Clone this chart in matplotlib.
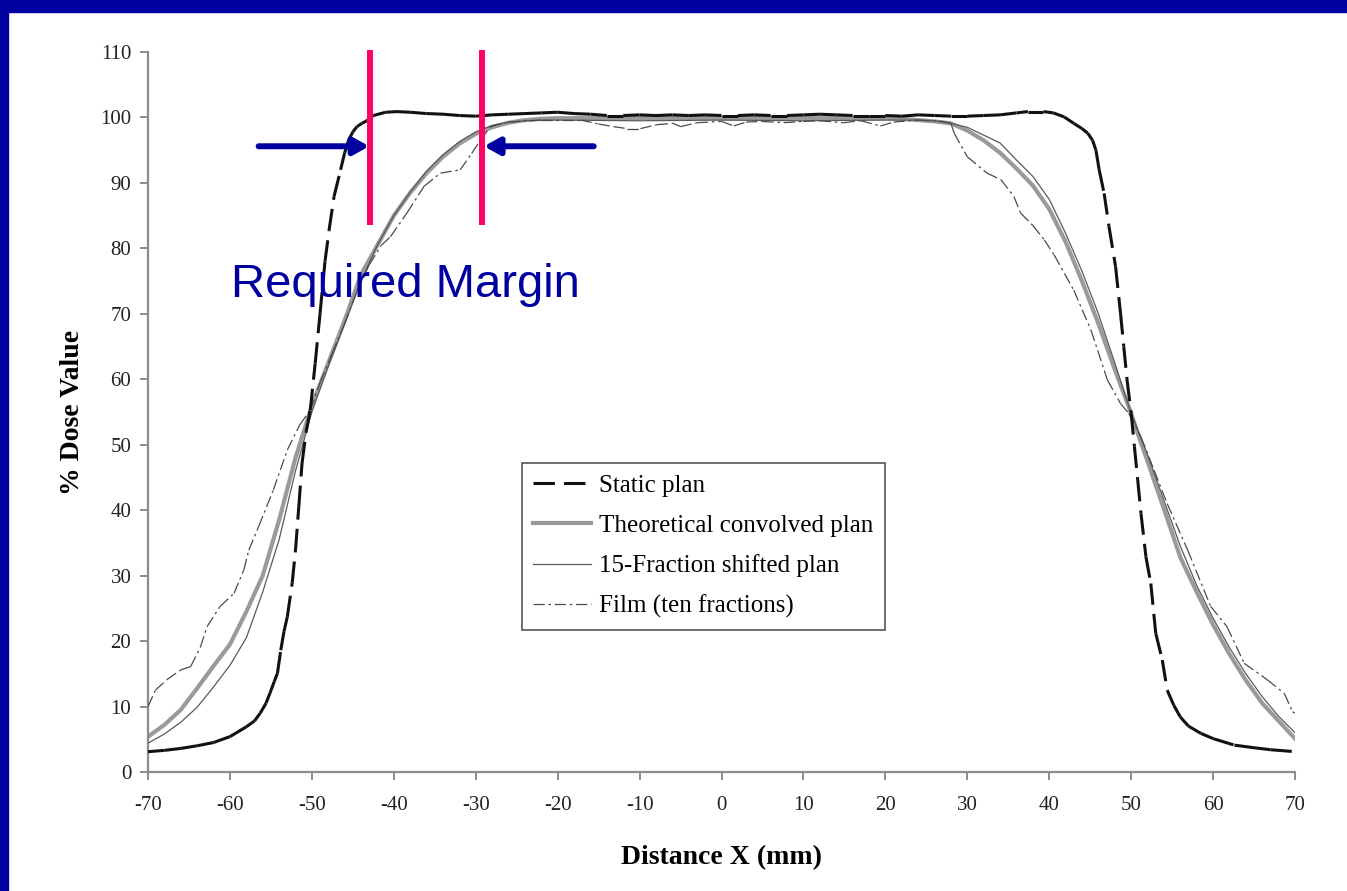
import matplotlib
matplotlib.use("Agg")
import matplotlib.pyplot as plt
import numpy as np
from matplotlib.collections import LineCollection
from matplotlib.lines import Line2D
from matplotlib.patches import Rectangle

plt.rcParams['axes.unicode_minus'] = False

# --- data (Distance X in mm, % dose) ---
static_x = [-70, -68, -66, -64, -62, -60, -58, -57, -56.3, -55.6, -55.1, -54.6, -54.2,
            -53.8, -53.4, -53.0, -52.4, -52.0, -51.6, -51.2, -50.7, -50.2, -49.6, -49.0,
            -48.4, -47.9, -47.3, -46.5, -46.0, -45.5, -45.0, -44.5, -43.9, -43.3, -42.5,
            -41, -39.6, -38, -36, -34, -32, -30, -28, -26, -24, -22, -20, -18, -16, -14,
            -12, -10, -8, -6, -4, -2, 0, 2, 4, 6, 8, 10, 12, 14, 16, 18, 20, 22, 24, 26,
            28, 30, 32, 34, 36, 37.4, 39.3, 40.5, 41.8, 43.0, 44.0, 44.7, 45.3, 45.7, 46.1,
            46.7, 47.3, 48.1, 48.7, 49.1, 49.5, 50.0, 50.4, 50.8, 51.2, 51.8, 52.4, 53.0,
            53.8, 54.4, 55.2, 56.0, 57, 58.5, 60, 62.6, 65, 67, 70]
static_y = [3.1, 3.3, 3.6, 4.0, 4.5, 5.4, 6.9, 7.8, 9.0, 10.5, 12.1, 13.8, 15.1,
            18.6, 21.5, 23.7, 28.9, 33.9, 40.5, 47.2, 52.0, 55.3, 62.4, 70.1,
            78.0, 82.8, 87.9, 92.0, 94.6, 96.6, 97.8, 98.6, 99.1, 99.5, 100.3,
            100.8, 100.9, 100.8, 100.6, 100.5, 100.3, 100.2, 100.4, 100.5, 100.6, 100.7,
            100.8, 100.6, 100.5, 100.3, 100.3, 100.4, 100.3, 100.4, 100.3, 100.4, 100.3,
            100.3, 100.4, 100.3, 100.3, 100.4, 100.5, 100.4, 100.3, 100.3, 100.3, 100.2,
            100.4, 100.3, 100.2, 100.2, 100.3, 100.4, 100.7, 100.9, 100.9, 100.7, 100.1,
            99.1, 98.3, 97.6, 96.5, 95.0, 92.0, 88.4, 83.3, 77.2, 70.1, 65.0, 59.9, 54.8,
            49.7, 44.6, 39.5, 32.9, 28.8, 21.2, 17.1, 12.5, 10.2, 8.4, 7.0, 5.9, 5.1, 4.1,
            3.7, 3.4, 3.1]

theory_x = [-70, -68, -66, -64, -62, -60, -58, -56, -54, -52, -50, -48, -46, -44, -42,
            -40, -38, -36, -34, -32, -30, -28, -26, -24, -22, -20, -10, 0, 10, 20, 22,
            24, 26, 28, 30, 32, 34, 36, 38, 40, 42, 44, 46, 48, 50, 51, 52, 53, 54, 55,
            56, 58, 60, 62, 64, 66, 68, 70]
theory_y = [5.4, 7.2, 9.5, 12.8, 16.2, 19.5, 24.5, 30.0, 38.5, 48.0, 56.0, 62.5, 69.0,
            76.0, 80.5, 85.0, 88.5, 91.5, 94.0, 96.0, 97.5, 98.5, 99.2, 99.6, 99.8, 99.9,
            99.9, 99.9, 99.9, 99.9, 99.8, 99.6, 99.4, 99.1, 98.0, 96.5, 94.6, 92.2, 89.6,
            86.0, 81.0, 75.0, 68.5, 61.5, 54.8, 51.0, 47.5, 43.8, 40.2, 36.5, 32.8, 27.5,
            22.5, 18.0, 14.0, 10.5, 7.8, 5.1]

shift_x = [-70, -68, -66, -64, -62, -60, -58, -56, -54, -52, -50, -48, -46, -44, -42,
           -40, -38, -36, -34, -32, -30, -28, -26, -24, -22, -20, -10, 0, 10, 20, 24,
           26, 28, 30, 32, 34, 36, 38, 40, 42, 44, 46, 48, 50, 52, 54, 56, 58, 60, 62,
           64, 66, 68, 70]
shift_y = [4.4, 5.8, 7.6, 9.9, 13.0, 16.3, 20.5, 27.5, 35.5, 46.0, 55.0, 62.0, 68.5,
           75.0, 80.5, 85.0, 88.6, 91.8, 94.3, 96.3, 97.8, 98.8, 99.3, 99.5, 99.6, 99.6,
           99.5, 99.6, 99.5, 99.6, 99.6, 99.5, 99.1, 98.5, 97.3, 96.1, 93.5, 91.0, 87.5,
           82.3, 76.5, 70.0, 62.5, 54.8, 48.5, 41.5, 34.5, 28.5, 23.5, 19.0, 15.0, 11.5,
           8.5, 6.0]

film_x = [-70, -69.1, -67.7, -66.0, -64.8, -63.6, -62.8, -61.2, -59.5, -58.3, -57.7,
          -56.5, -54.7, -53.0, -51.5, -50.2, -49, -47.5, -46, -44.5, -43, -41.5, -40.4,
          -38.4, -36.3, -34.3, -31.9, -30.5, -29.4, -28.2, -26, -22, -17.2, -15, -13.2,
          -11.5, -9.9, -7.9, -5.9, -5, -3, 0, 1.5, 3, 5, 7.6, 10, 12, 14.9, 17, 19.4,
          21, 24, 27, 28.0, 28.4, 30.0, 32.4, 34.1, 35.7, 36.5, 38, 39.4, 40.6, 43.0,
          45.1, 47.1, 48.7, 49.7, 51.2, 52.8, 54.4, 56.9, 59.7, 61.7, 63.8, 66.6, 68.7,
          69.7, 70]
film_y = [10.0, 12.5, 14.1, 15.6, 16.1, 19.1, 22.2, 25.3, 27.3, 30.9, 33.9,
          37.5, 43.1, 49.2, 53.0, 55.3, 59.5, 64.0, 68.5, 73.5, 77.5, 80.5, 81.8,
          85.4, 89.5, 91.5, 92.0, 94.5, 96.6, 98.6, 99.3, 99.6, 99.6, 99.0, 98.6,
          98.3, 98.3, 98.9, 99.1, 98.6, 99.2, 99.4, 98.7, 99.3, 99.4, 99.2, 99.4, 99.5,
          99.2, 99.5, 98.7, 99.3, 99.6, 99.4, 99.1, 97.6, 94.0, 91.5, 90.5, 87.9, 85.4,
          83.5, 81.3, 79.0, 73.6, 67.5, 59.9, 56.3, 54.8, 51.2, 46.1, 41.0, 33.9, 25.3,
          22.2, 16.6, 14.1, 12.0, 9.2, 9.0]

labels = ['Static plan', 'Theoretical convolved plan', '15-Fraction shifted plan',
          'Film (ten fractions)']

NAVY = '#0000A0'
SERIF = ['Liberation Serif', 'DejaVu Serif']


def excel_dashed(ax, x, y, **kw):
    # dash pattern restarts on every segment, like the spreadsheet original
    pts = np.column_stack([x, y])
    segs = np.stack([pts[:-1], pts[1:]], axis=1)
    lc = LineCollection(segs, capstyle='butt', **kw)
    ax.add_collection(lc)


fig = plt.figure(figsize=(13.47, 8.91), dpi=100)
ax = fig.add_axes([0.1099, 0.1336, 0.8515, 0.808])

# slide border (top and left only)
fig.patches.append(Rectangle((0, 1 - 12 / 891), 1, 12 / 891, transform=fig.transFigure,
                             color=NAVY, zorder=10))
fig.patches.append(Rectangle((0, 0), 8 / 1347, 1, transform=fig.transFigure,
                             color=NAVY, zorder=10))

static_dash = (0, (7, 3))
film_dash = (0, (9, 3, 2, 3))

ax.plot(theory_x, theory_y, color='#9a9a9a', lw=3.0, zorder=2)
ax.plot(shift_x, shift_y, color='#5a5a5a', lw=0.9, zorder=3)
excel_dashed(ax, film_x, film_y, colors='#4a4a4a', linewidths=0.9, linestyles=film_dash,
             zorder=3)
excel_dashed(ax, static_x, static_y, colors='#111111', linewidths=2.2,
             linestyles=static_dash, zorder=4)

ax.set_xlim(-70, 70)
ax.set_ylim(0, 110)
ax.set_xticks(np.arange(-70, 71, 10))
ax.set_yticks(np.arange(0, 111, 10))
for s in ['top', 'right']:
    ax.spines[s].set_visible(False)
for s in ['left', 'bottom']:
    ax.spines[s].set_color('#8c8c8c')
    ax.spines[s].set_linewidth(1.6)
ax.tick_params(axis='both', direction='out', length=6, width=1.4, color='#8c8c8c',
               labelsize=15, labelcolor='#222222')
ax.tick_params(axis='x', pad=11)
ax.tick_params(axis='y', pad=6)
for t in ax.get_xticklabels() + ax.get_yticklabels():
    t.set_fontfamily(SERIF)

ax.set_xlabel('Distance X (mm)', fontsize=20, fontweight='bold', family=SERIF, labelpad=22)
ax.set_ylabel('% Dose Value', fontsize=20, fontweight='bold', family=SERIF, labelpad=11)

handles = [
    Line2D([], [], color='#111111', lw=2.2, linestyle=static_dash),
    Line2D([], [], color='#9a9a9a', lw=3.0),
    Line2D([], [], color='#5a5a5a', lw=0.9),
    Line2D([], [], color='#4a4a4a', lw=0.9, linestyle=film_dash),
]
leg = ax.legend(handles, labels, loc='upper left', bbox_to_anchor=(0.326, 0.429),
                borderaxespad=0, prop={'family': SERIF, 'size': 18}, handlelength=2.3,
                handletextpad=0.35, labelspacing=0.7, borderpad=0.45, fancybox=False,
                framealpha=1, edgecolor='#555555')
leg.get_frame().set_linewidth(1.2)

# margin annotation
for xv in [-42.9, -29.2]:
    ax.plot([xv, xv], [83.6, 110.3], color='#FF0066', lw=4.3, clip_on=False, zorder=6,
            solid_capstyle='butt')
ax.annotate('', xy=(-43.0, 95.6), xytext=(-56.5, 95.6),
            arrowprops=dict(arrowstyle='-|>,head_length=0.9,head_width=0.5', color=NAVY,
                            lw=4.3, shrinkA=0, shrinkB=0), zorder=7)
ax.annotate('', xy=(-29.0, 95.6), xytext=(-15.6, 95.6),
            arrowprops=dict(arrowstyle='-|>,head_length=0.9,head_width=0.5', color=NAVY,
                            lw=4.3, shrinkA=0, shrinkB=0), zorder=7)
ax.text(-59.9, 74.4, 'Required Margin', color=NAVY, fontsize=34, family='Liberation Sans',
        ha='left', va='center', zorder=8)

fig.savefig('out.png', dpi=100)
